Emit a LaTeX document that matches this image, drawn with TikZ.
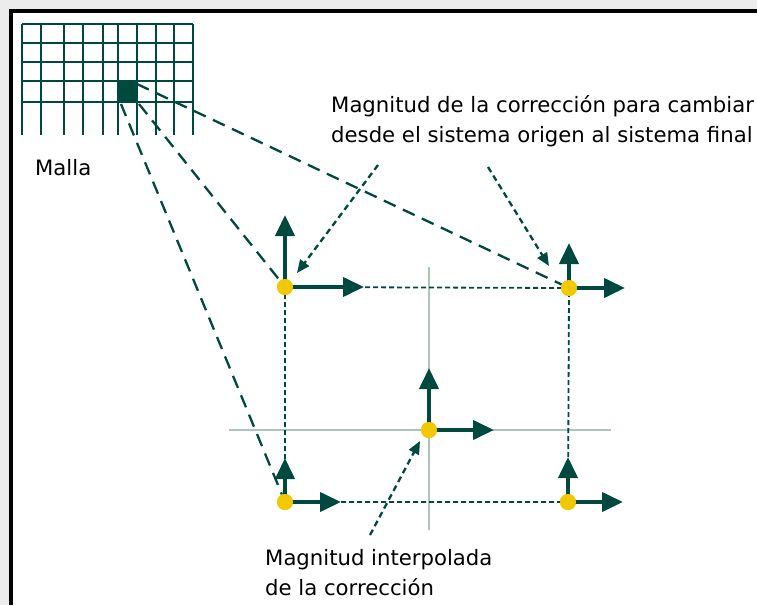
\documentclass[tikz,border=0pt]{standalone}
\usepackage{fontspec}
\setmainfont{DejaVu Sans}
\usetikzlibrary{arrows.meta}
\definecolor{dgreen}{HTML}{00493F}
\definecolor{lgreen}{HTML}{A9C5BC}
\definecolor{gold}{HTML}{F2C800}
\definecolor{bggray}{HTML}{ECECEC}
\tikzset{
  dot/.style={circle,fill=gold,inner sep=0pt,minimum size=16pt},
  vec/.style={draw=dgreen,line width=4pt,-{Triangle[length=21pt,width=19pt]},shorten <=0pt},
  frame/.style={draw=dgreen,line width=1.8pt,dash pattern=on 5pt off 3pt},
  cross/.style={draw=lgreen,line width=1.5pt},
  link/.style={draw=dgreen,line width=2.3pt,dash pattern=on 13pt off 8pt},
  note/.style={draw=dgreen,line width=2.3pt,dash pattern=on 6pt off 4pt,-{Triangle[length=13pt,width=11pt]}},
  lbl/.style={inner sep=0pt,anchor=base west,font=\fontsize{21.2}{30}\selectfont,text=black},
  gridline/.style={draw=dgreen,line width=2.6pt}
}
\begin{document}
\begin{tikzpicture}[x=1pt,y=-1pt]
\useasboundingbox (0,0) rectangle (757,605);
% background and frame
\fill[bggray] (0,0) rectangle (757,605);
\fill[white] (11,11) rectangle (757,605);
\fill[black] (9,9) rectangle (13,605);
\fill[black] (9,9) rectangle (757,13);
% grid (Malla)
\foreach \y in {24,43,62,81,102} \draw[gridline] (22,\y) -- (193,\y);
\foreach \x in {22,41,64,83,103,118,137,156,174,193} \draw[gridline] (\x,24) -- (\x,135);
\fill[dgreen] (117,81) rectangle (137,102);
\coordinate (c1) at (137,84);
\coordinate (c2) at (139,104);
\coordinate (c3) at (121,104);
\node[lbl] (malla) at (35,175) {Malla};
% cross lines
\coordinate (vt) at (429,267);
\coordinate (vb) at (429,530);
\coordinate (hl) at (229,430);
\coordinate (hr) at (611,430);
\draw[cross] (vt) -- (vb);
\draw[cross] (hl) -- (hr);
% points
\node[dot] (ul) at (285,287) {};
\node[dot] (ur) at (569,288) {};
\node[dot] (ce) at (429,430) {};
\node[dot] (bl) at (285,502) {};
\node[dot] (br) at (568,502) {};
% dashed rectangle
\draw[frame] (ul.center) -- (ur.center) -- (br.center) -- (bl.center) -- cycle;
% long dashed links
\draw[link] (c1) -- (ur);
\draw[link] (c2) -- (ul);
\draw[link] (c3) -- (bl);
% vectors
\coordinate (ulu) at (285,215); \coordinate (ulr) at (364,287);
\coordinate (uru) at (569,243); \coordinate (urr) at (625,288);
\coordinate (ceu) at (429,368); \coordinate (cer) at (494,430);
\coordinate (blu) at (285,458); \coordinate (blr) at (341,502);
\coordinate (bru) at (568,457); \coordinate (brr) at (623,502);
\draw[vec] (ul.center) -- (ulu);
\draw[vec] (ul.center) -- (ulr);
\draw[vec] (ur.center) -- (uru);
\draw[vec] (ur.center) -- (urr);
\draw[vec] (ce.center) -- (ceu);
\draw[vec] (ce.center) -- (cer);
\draw[vec] (bl.center) -- (blu);
\draw[vec] (bl.center) -- (blr);
\draw[vec] (br.center) -- (bru);
\draw[vec] (br.center) -- (brr);
% redraw dots on top
\foreach \n in {ul,ur,ce,bl,br} \fill[gold] (\n) circle (8pt);
% labels
\node[lbl] (t1) at (331,112) {Magnitud de la corrección para cambiar};
\node[lbl] (t2) at (331,142) {desde el sistema origen al sistema final};
\node[lbl] (b1) at (265,565) {Magnitud interpolada};
\node[lbl] (b2) at (265,595) {de la corrección};
% annotation arrows
\coordinate (a1) at (378,165);
\coordinate (a2) at (488,167);
\coordinate (a3) at (370,535);
\coordinate (p1) at (297,273);
\coordinate (p2) at (549,266);
\coordinate (p3) at (420,441);
\draw[note] (a1) -- (p1);
\draw[note] (a2) -- (p2);
\draw[note] (a3) -- (p3);
\end{tikzpicture}
\end{document}
